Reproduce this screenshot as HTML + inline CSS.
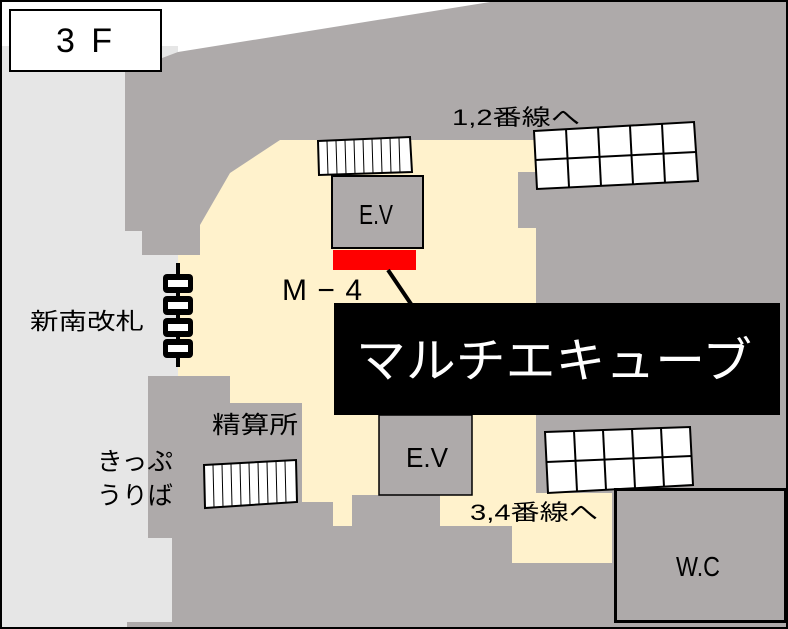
<!DOCTYPE html>
<html><head><meta charset="utf-8"><style>
html,body{margin:0;padding:0;background:#fff}
svg{display:block}
text{font-family:"Liberation Sans","Noto Sans CJK JP",sans-serif}
</style></head><body>
<svg width="788" height="629" viewBox="0 0 788 629" xmlns="http://www.w3.org/2000/svg">
<rect x="0" y="0" width="788" height="629" fill="#fff"/>
<rect x="2" y="46" width="176" height="581" fill="#e6e6e6"/>
<polygon fill="#aeaaaa" points="125,72 178,52 490,2 786,2 786,627 127,627 127,622 172,622 172,538 148,538 148,376 178,376 178,255 142,255 142,231 125,231"/>
<polygon fill="#fff2cc" points="200,255 200,225 230,173 280,140 536,140 536,172 518,172 518,228 536,228 536,493 612,493 612,563 512,563 512,526 440,526 440,495 352,495 352,526 333,526 333,502 302,502 302,403 230,403 230,376 178,376 178,255"/>
<g stroke="#000" stroke-width="1">
<polygon points="318,141 410,137 412,172 319,175" fill="#fff" stroke-width="2"/>
<line x1="327" y1="141" x2="328" y2="175"/><line x1="336" y1="141" x2="337" y2="174"/><line x1="345" y1="140" x2="346" y2="174"/><line x1="354" y1="140" x2="355" y2="174"/><line x1="363" y1="139" x2="364" y2="174"/><line x1="372" y1="139" x2="373" y2="173"/><line x1="381" y1="139" x2="382" y2="173"/><line x1="390" y1="138" x2="391" y2="173"/><line x1="399" y1="138" x2="400" y2="173"/>
</g>
<g stroke="#000" stroke-width="1">
<polygon points="204,465 296,460 297,502 205,508" fill="#fff" stroke-width="2"/>
<line x1="213" y1="465" x2="214" y2="507"/><line x1="222" y1="464" x2="223" y2="507"/><line x1="231" y1="464" x2="232" y2="506"/><line x1="240" y1="463" x2="241" y2="506"/><line x1="249" y1="463" x2="250" y2="505"/><line x1="258" y1="462" x2="259" y2="505"/><line x1="267" y1="462" x2="268" y2="504"/><line x1="276" y1="461" x2="277" y2="504"/><line x1="285" y1="461" x2="286" y2="503"/>
</g>
<g stroke="#000" stroke-width="2" fill="#fff">
<polygon points="534,131 694,122 698,181 537,189"/>
<line x1="535.5" y1="160" x2="696" y2="152"/>
<line x1="566" y1="129" x2="569" y2="187"/><line x1="598" y1="127" x2="601" y2="186"/><line x1="630" y1="126" x2="633" y2="184"/><line x1="662" y1="124" x2="665" y2="183"/>
</g>
<g stroke="#000" stroke-width="2" fill="#fff">
<polygon points="545,432 690,427 693,485 548,493"/>
<line x1="546.5" y1="462" x2="691.5" y2="456"/>
<line x1="574" y1="431" x2="577" y2="491"/><line x1="603" y1="430" x2="606" y2="490"/><line x1="632" y1="429" x2="635" y2="488"/><line x1="661" y1="428" x2="664" y2="487"/>
</g>
<rect x="332" y="176" width="91" height="72" fill="#aeaaaa" stroke="#000" stroke-width="2"/>
<text x="359" y="224" font-size="28" textLength="34" lengthAdjust="spacingAndGlyphs">E.V</text>
<rect x="333" y="250" width="83" height="20" fill="#ff0000"/>
<line x1="388" y1="270" x2="411" y2="304" stroke="#000" stroke-width="4"/>
<rect x="379" y="415" width="93" height="80" fill="#aeaaaa" stroke="#000" stroke-width="1.5"/>
<text x="406" y="467" font-size="28" textLength="42" lengthAdjust="spacingAndGlyphs">E.V</text>
<rect x="334" y="303" width="446" height="112" fill="#000"/>
<text x="356" y="377" font-size="48" fill="#fff" textLength="396" lengthAdjust="spacingAndGlyphs">マルチエキューブ</text>
<rect x="615.5" y="489.5" width="170" height="132" fill="#aeaaaa" stroke="#000" stroke-width="3"/>
<text x="676" y="576" font-size="28" textLength="44" lengthAdjust="spacingAndGlyphs">W.C</text>
<line x1="178" y1="263" x2="178" y2="367" stroke="#000" stroke-width="4"/>
<g fill="#000">
<rect x="163" y="274" width="30" height="19" rx="4"/><rect x="163" y="296" width="30" height="19" rx="4"/><rect x="163" y="318" width="30" height="19" rx="4"/><rect x="163" y="339" width="30" height="19" rx="4"/>
</g>
<g fill="#fff">
<rect x="168" y="280" width="20" height="7"/><rect x="168" y="302" width="20" height="7"/><rect x="168" y="324" width="20" height="7"/><rect x="168" y="345" width="20" height="7"/>
</g>
<rect x="10" y="10" width="151" height="61" fill="#fff" stroke="#000" stroke-width="2"/>
<text x="56" y="52" font-size="34" textLength="56" lengthAdjust="spacing">3 F</text>
<text x="282" y="300" font-size="30" textLength="80" lengthAdjust="spacing">M−4</text>
<text x="452" y="125" font-size="22" textLength="128" lengthAdjust="spacingAndGlyphs">1,2番線へ</text>
<text x="470" y="520" font-size="22" textLength="128" lengthAdjust="spacingAndGlyphs">3,4番線へ</text>
<text x="30" y="329" font-size="23" textLength="114" lengthAdjust="spacingAndGlyphs">新南改札</text>
<text x="212" y="433" font-size="24" textLength="86" lengthAdjust="spacingAndGlyphs">精算所</text>
<text x="97" y="470" font-size="25" textLength="76" lengthAdjust="spacingAndGlyphs">きっぷ</text>
<text x="97" y="504" font-size="25" textLength="76" lengthAdjust="spacingAndGlyphs">うりば</text>
<rect x="1" y="1" width="786" height="627" fill="none" stroke="#000" stroke-width="2"/>
</svg>
</body></html>
